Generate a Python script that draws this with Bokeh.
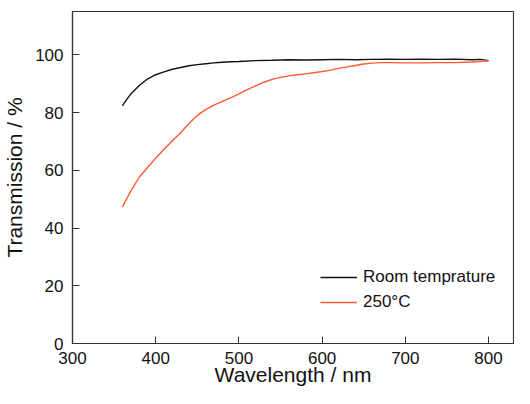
from bokeh.plotting import figure
from bokeh.models import Range1d, FixedTicker, Legend, LegendItem
from bokeh.embed import file_html
from bokeh.resources import INLINE

wl_room = [360, 365, 370, 380, 390, 400, 410, 420, 430, 440, 450, 460, 470, 480, 490, 500,
           520, 540, 560, 580, 600, 620, 640, 660, 680, 700, 720, 740, 760, 780, 790, 800]
t_room = [82.3, 84.5, 86.4, 89.3, 91.6, 93.1, 94.1, 95.0, 95.6, 96.2, 96.6, 96.9, 97.2, 97.4, 97.6, 97.7,
          98.0, 98.1, 98.3, 98.2, 98.3, 98.4, 98.3, 98.4, 98.5, 98.4, 98.5, 98.4, 98.5, 98.3, 98.4, 98.0]

wl_250 = [360, 370, 380, 390, 400, 410, 420, 430, 440, 450, 460, 470, 480, 490, 500,
          510, 520, 530, 540, 550, 560, 570, 580, 590, 600, 610, 620, 630, 640, 650, 660,
          670, 680, 700, 720, 740, 760, 780, 800]
t_250 = [47.3, 52.8, 57.5, 60.9, 64.2, 67.3, 70.2, 73.0, 76.2, 79.0, 81.0, 82.6, 83.9, 85.1, 86.5,
         87.9, 89.2, 90.5, 91.5, 92.2, 92.7, 93.1, 93.4, 93.8, 94.2, 94.7, 95.3, 95.8, 96.3, 96.8, 97.1,
         97.3, 97.3, 97.2, 97.2, 97.3, 97.3, 97.5, 97.9]

x_ticks = [300, 400, 500, 600, 700, 800]
y_ticks = [0, 20, 40, 60, 80, 100]
labels = ["Room temprature", "250\u00b0C"]
x_title = "Wavelength / nm"
y_title = "Transmission / %"

FONT = "Liberation Sans"

p = figure(width=514, height=388, output_backend="svg", toolbar_location=None,
           x_range=Range1d(300, 830), y_range=Range1d(0, 115),
           min_border_left=64, min_border_right=1, min_border_top=11, min_border_bottom=30)
p.background_fill_color = "white"
p.border_fill_color = "white"
p.grid.visible = False
p.outline_line_color = "#333333"
p.outline_line_width = 1.2

r1 = p.line(wl_room, t_room, line_color="#111111", line_width=1.4)
r2 = p.line(wl_250, t_250, line_color="#FF5A33", line_width=1.4)

for ax in (p.xaxis[0], p.yaxis[0]):
    ax.major_tick_in = 7
    ax.major_tick_out = 0
    ax.minor_tick_line_color = None
    ax.axis_line_color = "#333333"
    ax.major_tick_line_color = "#333333"
    ax.axis_line_width = 1.2
    ax.major_label_text_font = FONT
    ax.major_label_text_font_size = "17px"
    ax.major_label_text_color = "#111111"
    ax.axis_label_text_font = FONT
    ax.axis_label_text_font_size = "21px"
    ax.axis_label_text_font_style = "normal"
    ax.axis_label_text_color = "#111111"

p.xaxis[0].ticker = FixedTicker(ticks=x_ticks)
p.yaxis[0].ticker = FixedTicker(ticks=y_ticks)
p.xaxis[0].axis_label = x_title
p.yaxis[0].axis_label = y_title
p.xaxis[0].major_label_standoff = 8
p.yaxis[0].major_label_standoff = 9
p.xaxis[0].axis_label_standoff = -4
p.xaxis[0].axis_label_text_line_height = 0.9
p.xaxis[0].major_label_text_line_height = 0.9
p.yaxis[0].axis_label_standoff = 6

legend = Legend(items=[LegendItem(label=labels[0], renderers=[r1]),
                       LegendItem(label=labels[1], renderers=[r2])],
                location=(248, 31), orientation="vertical")
legend.border_line_color = None
legend.background_fill_alpha = 0
legend.padding = 0
legend.margin = 0
legend.spacing = 5
legend.glyph_width = 37
legend.glyph_height = 20
legend.label_height = 20
legend.label_standoff = 6
legend.label_text_font = FONT
legend.label_text_font_size = "17px"
legend.label_text_color = "#111111"
p.add_layout(legend, "center")

open("out.html", "w").write(file_html(p, INLINE))
